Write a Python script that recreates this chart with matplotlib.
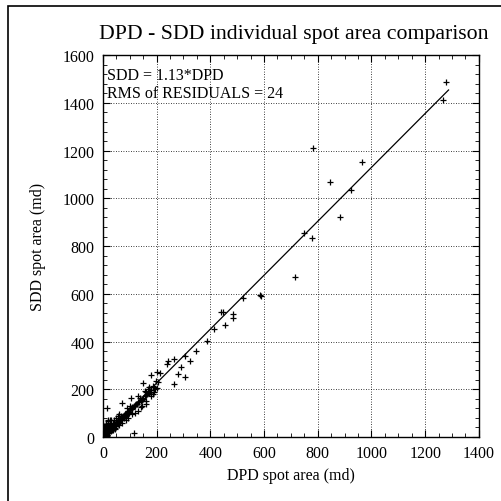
import matplotlib
matplotlib.use("Agg")
import matplotlib.pyplot as plt
from matplotlib.ticker import MultipleLocator
from matplotlib.patches import Rectangle
import numpy as np

plt.rcParams['font.family'] = ['Liberation Serif', 'DejaVu Serif']

title = "DPD - SDD individual spot area comparison"
xlabel = "DPD spot area (md)"
ylabel = "SDD spot area (md)"
fit_slope = 1.13
rms_resid = 24

# DPD (x) and SDD (y) spot areas
dpd = [1277, 1265, 781, 963, 846, 922, 881, 750, 778, 715, 590, 585, 520,
       485, 483, 446, 439, 454, 414, 387, 345, 305, 325, 264, 243, 238, 290,
       280, 305, 263, 200, 212, 196, 190, 186, 150, 179, 156, 162, 104, 70,
       14, 115, 79, 144, 129,
       180, 175, 170, 168, 165, 160, 155, 150, 148, 145, 140, 138, 135, 130,
       128, 125, 120, 118, 115, 110, 108, 105, 100, 98, 95, 92, 90, 88, 85,
       82, 80, 78, 75, 72, 70, 68, 65, 62, 60, 58, 55, 52, 50, 48, 45, 42,
       40, 38, 35, 32, 30, 28, 25, 22, 20, 18, 15, 12, 10, 8, 6, 5, 3, 2, 1,
       130, 110, 95, 85, 100, 90, 60, 50, 40, 30, 25, 20, 15, 10, 5, 3,
       120, 140, 160, 60, 70, 45, 35, 180, 185, 190, 195, 200, 205, 170, 162,
       4, 7, 9, 11, 13, 16, 19, 21, 24, 27, 29, 33, 36, 2, 6, 8, 12, 14, 17,
       23, 26, 31, 34, 37, 43, 47, 53, 57, 63, 67, 73, 77, 83, 87, 93, 97,
       1, 2, 3, 4, 5, 6, 8, 10, 12, 14, 16, 18, 20, 22, 26, 28, 32, 9, 11,
       24, 38, 44, 55, 66, 48, 30, 18]
sdd = [1488, 1414, 1213, 1153, 1068, 1034, 921, 857, 836, 672, 592, 597, 582,
       516, 498, 525, 522, 469, 451, 403, 361, 340, 317, 327, 320, 306, 293,
       262, 250, 222, 271, 268, 236, 208, 212, 226, 260, 194, 152, 165, 142,
       120, 17, 82, 131, 173,
       195, 190, 185, 200, 180, 175, 170, 165, 160, 155, 150, 162, 148, 145,
       140, 138, 135, 128, 130, 125, 118, 120, 112, 105, 108, 100, 102, 95, 98,
       90, 92, 85, 88, 80, 82, 75, 78, 70, 72, 65, 68, 60, 58, 55, 52, 48,
       50, 42, 45, 38, 35, 32, 30, 26, 24, 20, 18, 14, 12, 10, 7, 5, 4, 2, 1,
       110, 95, 80, 70, 130, 120, 95, 80, 70, 60, 50, 45, 40, 30, 20, 10,
       100, 125, 140, 50, 60, 35, 28, 170, 180, 190, 200, 205, 230, 210, 188,
       8, 12, 6, 18, 9, 25, 15, 30, 20, 35, 26, 40, 30, 6, 3, 14, 22, 10, 28,
       20, 36, 28, 44, 33, 50, 46, 62, 55, 75, 70, 85, 78, 95, 90, 108, 100,
       15, 25, 35, 45, 12, 40, 30, 50, 55, 4, 8, 60, 65, 28, 70, 52, 38, 16,
       20, 48, 58, 38, 88, 90, 62, 72, 70]

fig = plt.figure(figsize=(5.02, 5.02), dpi=100)
ax = fig.add_axes([0.205, 0.1275, 0.749, 0.7605])

# outer frame (only its top and left edges fall inside the picture)
fig.patches.append(Rectangle((8/502, -0.1), 1.2, 1.1 - 7/502, transform=fig.transFigure,
                             fill=False, edgecolor='black', linewidth=1.2))

ax.scatter(dpd, sdd, marker='+', s=20, color='black', linewidths=0.9, zorder=3)
xfit = np.array([0, max(dpd) + 10])
ax.plot(xfit, fit_slope * xfit, color='black', linewidth=0.9, zorder=2)

ax.set_xlim(0, 1400)
ax.set_ylim(0, 1600)
ax.xaxis.set_major_locator(MultipleLocator(200))
ax.xaxis.set_minor_locator(MultipleLocator(50))
ax.yaxis.set_major_locator(MultipleLocator(200))
ax.yaxis.set_minor_locator(MultipleLocator(40))
ax.tick_params(which='both', direction='in', top=True, right=True, labelsize=11.5, pad=6)
ax.tick_params(which='major', length=5, width=0.8)
ax.tick_params(which='minor', length=3, width=0.6)
ax.grid(True, which='major', linestyle=(0, (1, 2)), color='black', linewidth=0.6)
ax.set_axisbelow(True)
for s in ax.spines.values():
    s.set_linewidth(1.0)

ax.set_xlabel(xlabel, fontsize=11.5)
ax.set_ylabel(ylabel, fontsize=11.5, labelpad=12)
fig.text(0.585, 0.932, title, ha='center', va='center', fontsize=15.7)

ax.text(0.012, 0.948, f"SDD = {fit_slope}*DPD", transform=ax.transAxes,
        ha='left', va='center', fontsize=11.5)
ax.text(0.012, 0.900, f"RMS of RESIDUALS = {rms_resid}", transform=ax.transAxes,
        ha='left', va='center', fontsize=11.5)

fig.savefig("out.png", dpi=100)
